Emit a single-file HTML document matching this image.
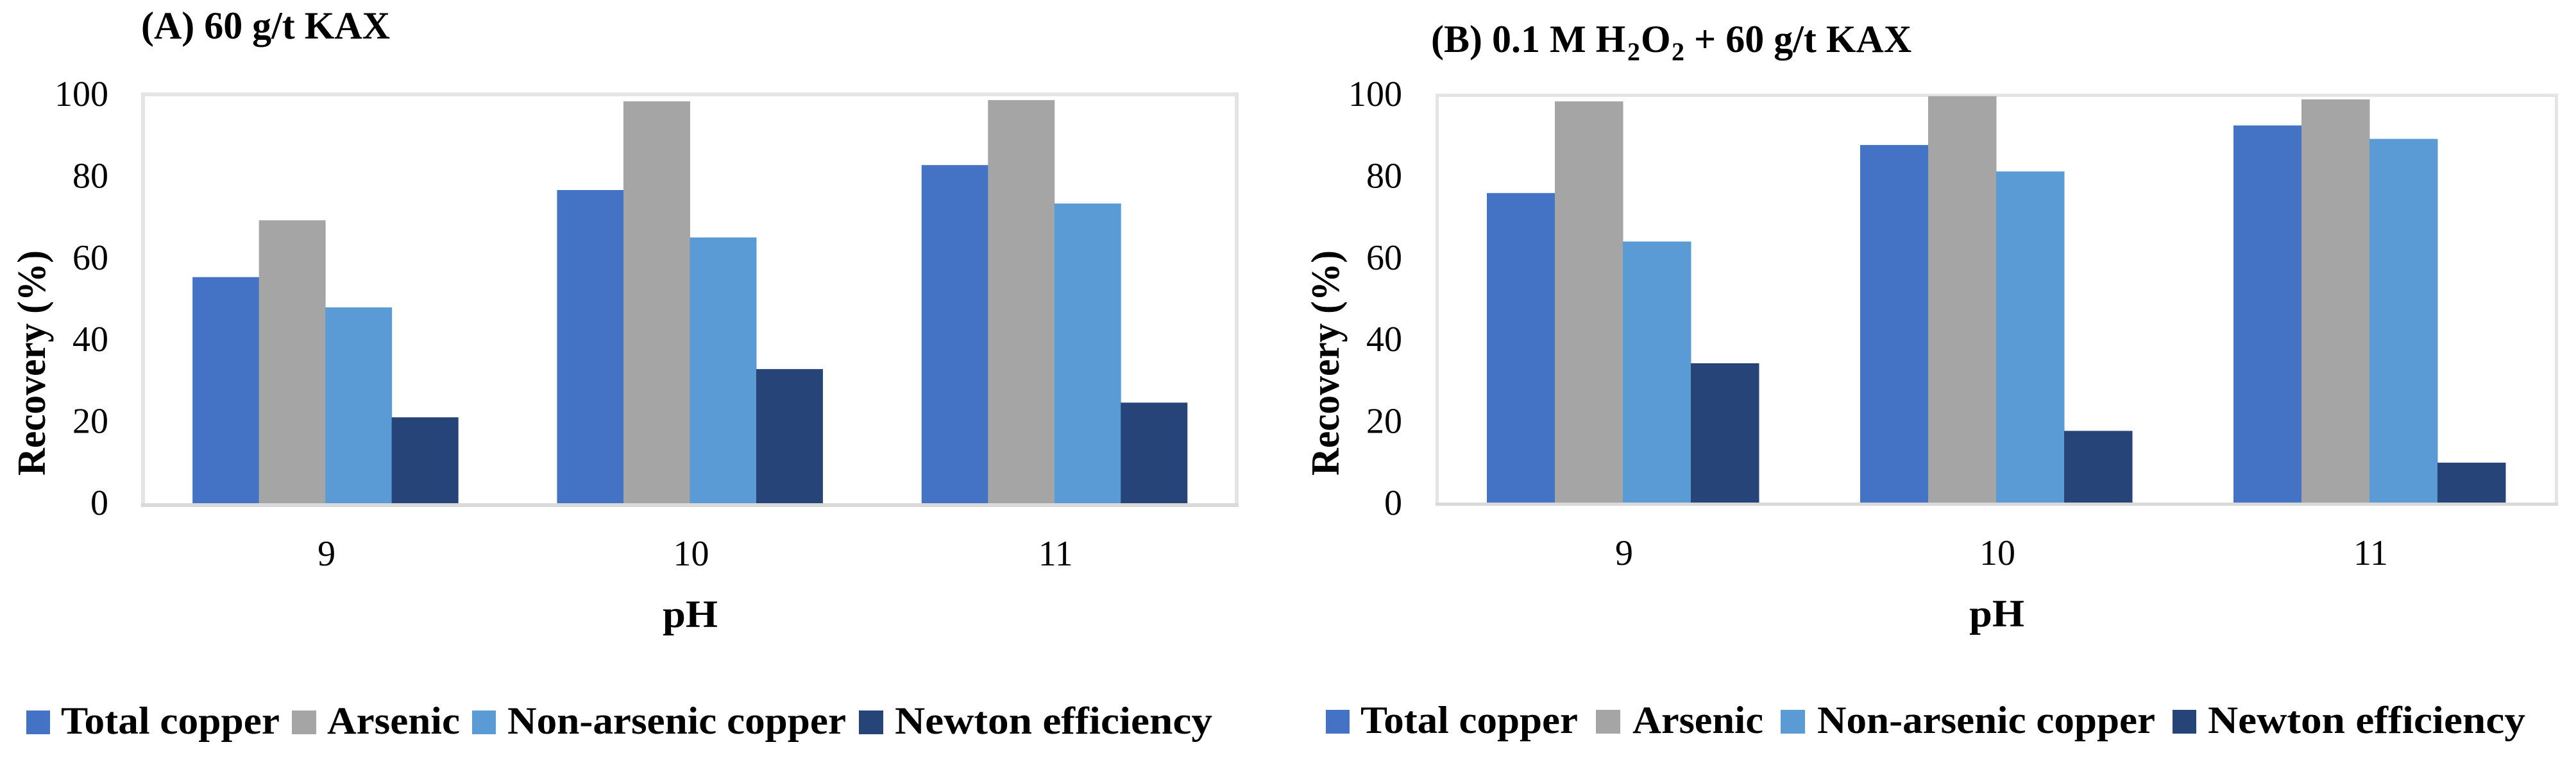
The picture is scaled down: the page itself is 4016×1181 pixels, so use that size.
<!DOCTYPE html>
<html lang="en">
<head>
<meta charset="utf-8">
<title>Recovery vs pH bar charts</title>
<style>
  html, body { margin: 0; padding: 0; background: #fff; }
  svg { display: block; }
  text { font-family: "Liberation Serif", serif; fill: #000; }
  .tick { font-size: 56px; }
  .bold { font-weight: bold; }
  .axis-x { font-size: 60px; font-weight: bold; }
  .legend { font-size: 60px; font-weight: bold; }
  .title { font-size: 60px; font-weight: bold; }
  .ytitle { font-size: 62px; font-weight: bold; }
</style>
</head>
<body>
<svg id="figure" xmlns="http://www.w3.org/2000/svg" width="4016" height="1181" viewBox="0 0 4016 1181">
  <rect x="0" y="0" width="4016" height="1181" fill="#ffffff"/>

  <g id="panel-a">
    <text class="title" x="220" y="60" textLength="388" lengthAdjust="spacingAndGlyphs">(A) 60 g/t KAX</text>
    <rect x="223" y="147" width="1705" height="640" fill="#ffffff" stroke="#e4e4e4" stroke-width="6"/>
    <g id="bars-a"></g>
    <line x1="220" x2="1931" y1="787" y2="787" stroke="#d9d9d9" stroke-width="6"/>
    <g id="yticks-a"></g>
    <g id="xticks-a"></g>
    <text class="ytitle" transform="translate(70 741) rotate(-90)" x="0" y="0" textLength="351" lengthAdjust="spacingAndGlyphs">Recovery (%)</text>
    <text class="axis-x" x="1033" y="977" textLength="86" lengthAdjust="spacingAndGlyphs">pH</text>
    <g>
      <rect x="41" y="1107" width="37" height="37" fill="#4472c4"/>
      <text class="legend" x="95" y="1143" textLength="341" lengthAdjust="spacingAndGlyphs">Total copper</text>
      <rect x="455" y="1107" width="38" height="37" fill="#a5a5a5"/>
      <text class="legend" x="510" y="1143" textLength="207" lengthAdjust="spacingAndGlyphs">Arsenic</text>
      <rect x="736" y="1107" width="37" height="37" fill="#5b9bd5"/>
      <text class="legend" x="791" y="1143" textLength="528" lengthAdjust="spacingAndGlyphs">Non-arsenic copper</text>
      <rect x="1339" y="1107" width="38" height="37" fill="#264478"/>
      <text class="legend" x="1395" y="1143" textLength="495" lengthAdjust="spacingAndGlyphs">Newton efficiency</text>
    </g>
  </g>

  <g id="panel-b">
    <text class="title" y="81"><tspan x="2231">(B) 0.1 M H</tspan><tspan x="2537" dy="13" font-size="40">2</tspan><tspan x="2558" dy="-13">O</tspan><tspan x="2606" dy="13" font-size="40">2</tspan><tspan x="2641" dy="-13">+ 60 g/t KAX</tspan></text>
    <rect x="2240.5" y="148.5" width="1745" height="637" fill="#ffffff" stroke="#e4e4e4" stroke-width="5"/>
    <g id="bars-b"></g>
    <line x1="2238" x2="3988" y1="785.5" y2="785.5" stroke="#d9d9d9" stroke-width="5"/>
    <g id="yticks-b"></g>
    <g id="xticks-b"></g>
    <text class="ytitle" transform="translate(2087 741) rotate(-90)" x="0" y="0" textLength="351" lengthAdjust="spacingAndGlyphs">Recovery (%)</text>
    <text class="axis-x" x="3070" y="976" textLength="86" lengthAdjust="spacingAndGlyphs">pH</text>
    <g>
      <rect x="2067" y="1106" width="37" height="37" fill="#4472c4"/>
      <text class="legend" x="2121" y="1142" textLength="339" lengthAdjust="spacingAndGlyphs">Total copper</text>
      <rect x="2488" y="1106" width="38" height="37" fill="#a5a5a5"/>
      <text class="legend" x="2545" y="1142" textLength="204" lengthAdjust="spacingAndGlyphs">Arsenic</text>
      <rect x="2776" y="1106" width="38" height="37" fill="#5b9bd5"/>
      <text class="legend" x="2833" y="1142" textLength="527" lengthAdjust="spacingAndGlyphs">Non-arsenic copper</text>
      <rect x="3387" y="1106" width="37" height="37" fill="#264478"/>
      <text class="legend" x="3442" y="1142" textLength="495" lengthAdjust="spacingAndGlyphs">Newton efficiency</text>
    </g>
  </g>
</svg>

<script>
// Chart data
const categories = ['9', '10', '11'];
const yTickValues = [0, 20, 40, 60, 80, 100];
const seriesNames = ['total-copper', 'arsenic', 'non-arsenic-copper', 'newton-efficiency'];
const seriesColors = ['#4472c4', '#a5a5a5', '#5b9bd5', '#264478'];

const panelATotalCopper = [55.3, 76.6, 82.7];
const panelAArsenic = [69.2, 98.3, 98.6];
const panelANonArsenicCopper = [47.9, 65.0, 73.3];
const panelANewtonEfficiency = [21.0, 32.8, 24.6];

const panelBTotalCopper = [76.0, 87.8, 92.6];
const panelBArsenic = [98.5, 99.8, 99.0];
const panelBNonArsenicCopper = [64.1, 81.3, 89.3];
const panelBNewtonEfficiency = [34.2, 17.6, 9.8];

const SVG_NS = 'http://www.w3.org/2000/svg';

function drawPanel(key, seriesList, band0, bandStep, barWidth, yZero, yPerUnit, tickRight, xLabelBaseline) {
  const xCenter = function (c) { return band0 + bandStep * (c + 0.5); };
  const yValue = function (v) { return yZero - v * yPerUnit; };
  const yTickBaseline = function (v) { return 802 - v * 6.37; };

  const barsGroup = document.getElementById('bars-' + key);
  seriesList.forEach(function (values, s) {
    values.forEach(function (value, c) {
      const bar = document.createElementNS(SVG_NS, 'rect');
      
      
      bar.setAttribute('x', xCenter(c) + (s - seriesList.length / 2) * barWidth);
      bar.setAttribute('y', yValue(value));
      bar.setAttribute('width', barWidth + 0.5);
      bar.setAttribute('height', yZero - yValue(value));
      bar.setAttribute('fill', seriesColors[s]);
      barsGroup.appendChild(bar);
    });
  });

  const yTicks = document.getElementById('yticks-' + key);
  yTickValues.forEach(function (v) {
    const label = document.createElementNS(SVG_NS, 'text');
    
    
    label.setAttribute('class', 'tick');
    label.setAttribute('x', tickRight);
    label.setAttribute('y', yTickBaseline(v));
    label.setAttribute('text-anchor', 'end');
    label.textContent = String(v);
    yTicks.appendChild(label);
  });

  const xTicks = document.getElementById('xticks-' + key);
  categories.forEach(function (cat, c) {
    const label = document.createElementNS(SVG_NS, 'text');
    
    
    label.setAttribute('class', 'tick');
    label.setAttribute('x', xCenter(c) + 2);
    label.setAttribute('y', xLabelBaseline);
    label.setAttribute('text-anchor', 'middle');
    label.textContent = cat;
    xTicks.appendChild(label);
  });
}

drawPanel('a',
  [panelATotalCopper, panelAArsenic, panelANonArsenicCopper, panelANewtonEfficiency],
  223, 568.3, 103.5, 784, 6.37, 169, 881);
drawPanel('b',
  [panelBTotalCopper, panelBArsenic, panelBNonArsenicCopper, panelBNewtonEfficiency],
  2239, 582, 106, 783, 6.345, 2186, 880);
</script>
</body>
</html>
